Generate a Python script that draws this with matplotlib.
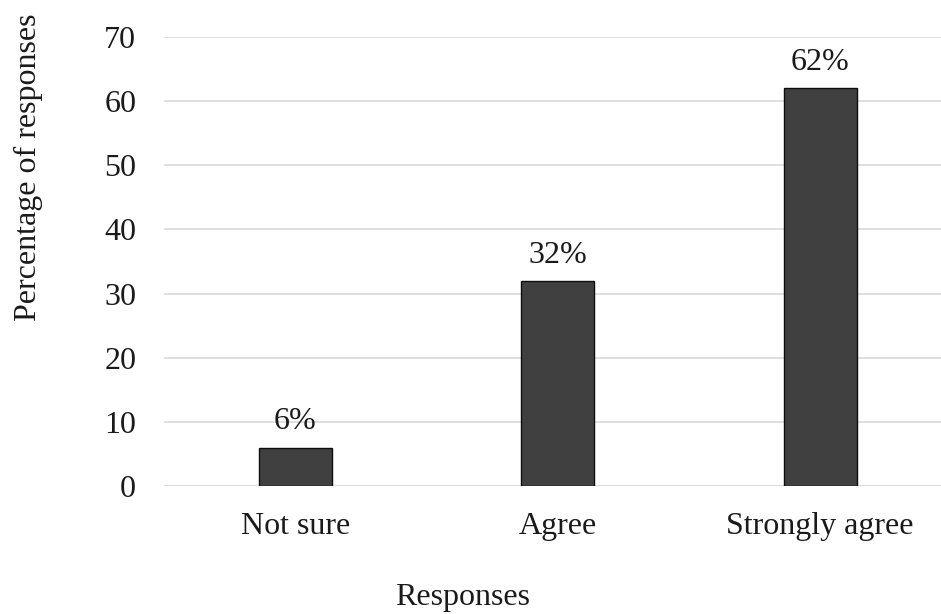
import matplotlib
matplotlib.use("Agg")
import matplotlib.pyplot as plt

categories = ["Not sure", "Agree", "Strongly agree"]
percentages = [6, 32, 62]
y_ticks = [0, 10, 20, 30, 40, 50, 60, 70]

plt.rcParams["font.family"] = ["Liberation Serif", "DejaVu Serif"]

W, H = 941, 614
FS = 23
fig = plt.figure(figsize=(W / 100, H / 100), dpi=100)
left, right, top, bottom = 164, 951.5, 37, 486
ax = fig.add_axes([left / W, 1 - bottom / H, (right - left) / W, (bottom - top) / H])

x = range(len(categories))
ax.bar(x, percentages, width=0.278, color="#404040", edgecolor="#0d0d0d",
       linewidth=1.0, zorder=3)

for xi, v in zip(x, percentages):
    ax.annotate(f"{v}%", (xi, v), xytext=(0, 8), textcoords="offset points",
                ha="center", va="bottom", fontsize=FS, color="#1a1a1a")

ax.set_xlim(-0.5, 2.5)
ax.set_ylim(0, 70)
ax.set_yticks(y_ticks)
ax.set_xticks(list(x))
ax.set_xticklabels(categories)
ax.tick_params(axis="both", length=0, labelsize=FS, colors="#1a1a1a")
ax.tick_params(axis="y", pad=20)
ax.tick_params(axis="x", pad=19)

ax.grid(axis="y", color="#d9d9d9", linewidth=1.2, zorder=0)
for s in ["top", "right", "left", "bottom"]:
    ax.spines[s].set_visible(False)
ax.axhline(0, color="#d9d9d9", linewidth=1.2, zorder=1)

fig.text(28 / W, 1 - 167 / H, "Percentage of responses", rotation=90,
         ha="center", va="center", fontsize=FS, color="#1a1a1a")
fig.text(463 / W, 1 - 598 / H, "Responses", ha="center", va="center",
         fontsize=FS, color="#1a1a1a")

fig.savefig("out.png", dpi=100)
